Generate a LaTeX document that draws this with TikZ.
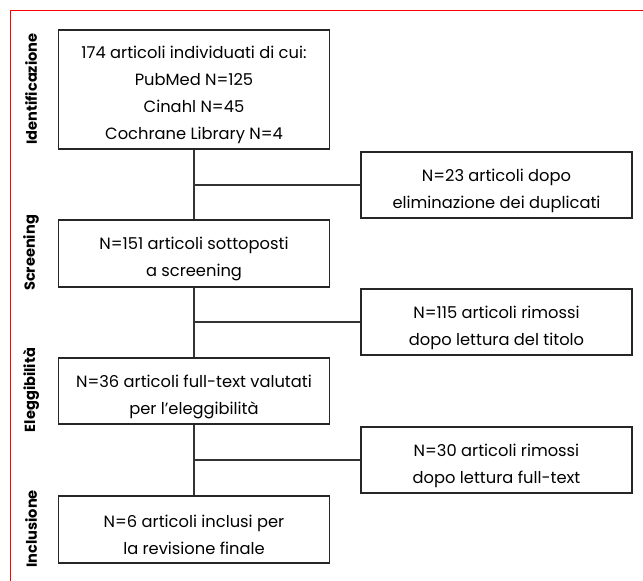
\documentclass[tikz,border=0pt]{standalone}
\usepackage{fontspec}
\setmainfont{Poppins}
\newcommand{\tstrut}{\rule{0pt}{23.5pt}}
\begin{document}
\begin{tikzpicture}[x=1pt,y=-1pt,
  box/.style={draw=black!85,line width=1.3pt,fill=white,inner sep=0pt,align=center,
    font=\fontsize{16.3}{27}\selectfont},
  conn/.style={draw=black!80,line width=1.2pt},
  phase/.style={rotate=90,font=\fontsize{14.6}{16}\selectfont\bfseries,inner sep=0pt}]
\useasboundingbox (0,0) rectangle (643,581);
\draw[red,line width=1pt] (643,10) -- (10,10) -- (10,581);
% main boxes
\node[box,minimum width=271pt,minimum height=119pt] (b1) at (194,89.5)
  {\tstrut174 articoli individuati di cui:\\PubMed N=125\\Cinahl N=45\\Cochrane Library N=4};
\node[box,minimum width=271pt,minimum height=67pt] (b2) at (194,253.5)
  {\tstrut N=151 articoli sottoposti\\a screening};
\node[box,minimum width=271pt,minimum height=66pt] (b3) at (194,391)
  {\tstrut N=36 articoli full-text valutati\\per l’eleggibilità};
\node[box,minimum width=271pt,minimum height=67pt] (b4) at (194,529.5)
  {\tstrut N=6 articoli inclusi per\\la revisione finale};
% side boxes
\node[box,minimum width=271pt,minimum height=66pt] (r1) at (496.5,185)
  {\tstrut N=23 articoli dopo\\eliminazione dei duplicati};
\node[box,minimum width=271pt,minimum height=66pt] (r2) at (496.5,322)
  {\tstrut N=115 articoli rimossi\\dopo lettura del titolo};
\node[box,minimum width=271pt,minimum height=66pt] (r3) at (496.5,460)
  {\tstrut N=30 articoli rimossi\\dopo lettura full-text};
% connectors
\draw[conn] (b1.south) -- (b2.north);
\draw[conn] (b2.south) -- (b3.north);
\draw[conn] (b3.south) -- (b4.north);
\draw[conn] (b1.south |- r1.west) -- (r1.west);
\draw[conn] (b2.south |- r2.west) -- (r2.west);
\draw[conn] (b3.south |- r3.west) -- (r3.west);
% phase labels
\node[phase] (p1) at (31,89) {Identificazione};
\node[phase] (p2) at (31,253) {Screening};
\node[phase] (p3) at (31,390) {Eleggibilità};
\node[phase] (p4) at (31,529) {Inclusione};
\end{tikzpicture}
\end{document}
